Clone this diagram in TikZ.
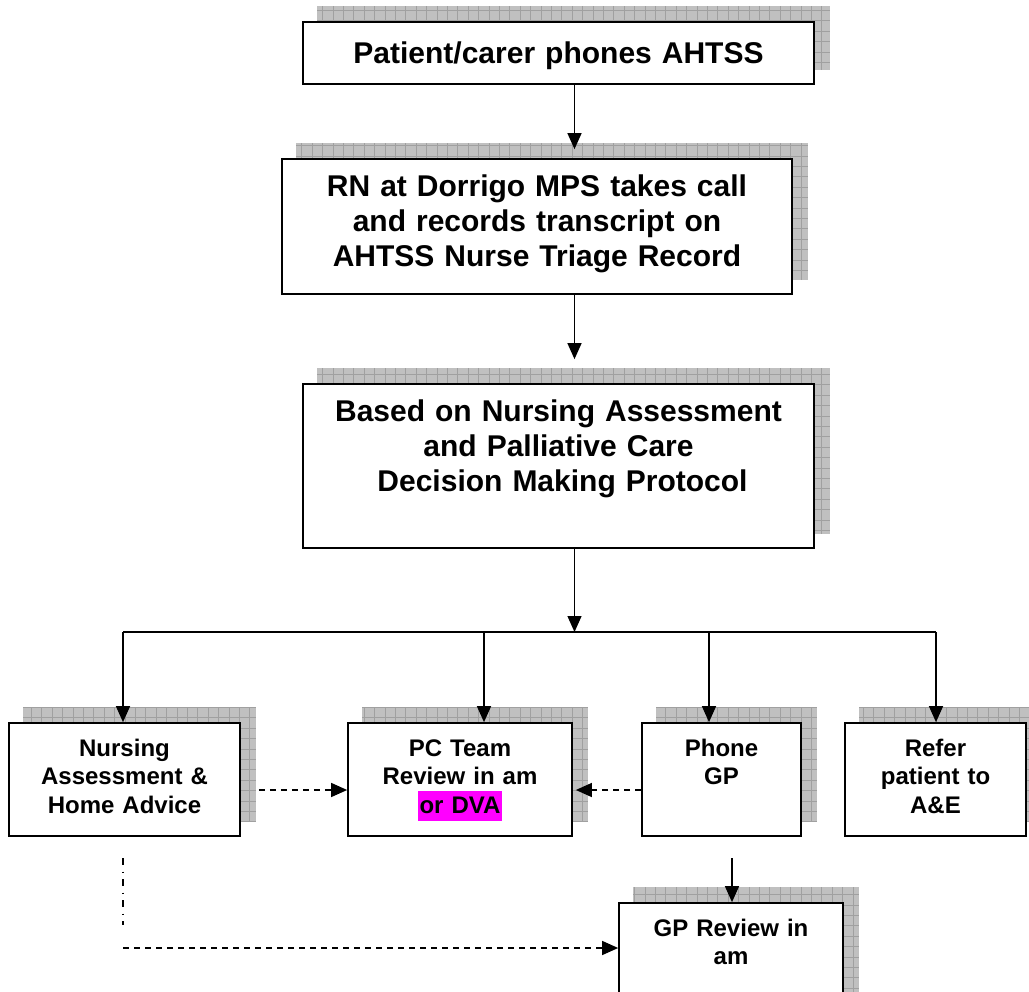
\documentclass[tikz,border=0pt]{standalone}
\usepackage{fontspec}
\setmainfont{Liberation Sans}
\usetikzlibrary{arrows.meta,calc,backgrounds}

\definecolor{shfill}{RGB}{192,192,192}
\definecolor{shgrid}{RGB}{160,160,160}
\definecolor{hlmag}{RGB}{255,0,255}

% grey grid-patterned shadow, offset up and to the right of a box
\newcommand{\boxshadow}[1]{%
  \fill[shfill] ($(#1.south west)+(15,-15)$) rectangle ($(#1.north east)+(15,-15)$);
  \draw[shgrid, line width=0.6pt, step=10.4pt]
    ($(#1.south west)+(15,-15)$) grid ($(#1.north east)+(15,-15)$);}

% magenta text highlight
\newcommand{\hlmark}[1]{{\setlength{\fboxsep}{0pt}%
  \colorbox{hlmag}{\kern2pt\rule[-8pt]{0pt}{30pt}#1\kern2pt}}}

\tikzset{
  flowbox/.style={draw=black, line width=1.7pt, fill=white, inner sep=0pt},
  bigtxt/.style={font=\fontsize{30}{35}\selectfont\bfseries, align=center,
                 inner sep=0pt, anchor=base},
  smalltxt/.style={font=\fontsize{24}{28.5}\selectfont\bfseries, align=center,
                   inner sep=0pt, anchor=base},
  arr/.style={line width=1.3pt, -{Triangle[length=16pt,width=14pt]}},
  darr/.style={arr, dash pattern=on 6pt off 5pt},
  ddline/.style={line width=1.5pt, dash pattern=on 7pt off 6.5pt on 1.5pt off 6pt}
}

\begin{document}
\begin{tikzpicture}[x=1pt,y=-1pt]
\useasboundingbox (0,0) rectangle (1029,992);

% boxes
\node[flowbox, minimum width=511pt, minimum height=62pt]  (b1)  at (558.5,53)    {};
\node[flowbox, minimum width=510pt, minimum height=135pt] (b2)  at (537,226.5)   {};
\node[flowbox, minimum width=511pt, minimum height=164pt] (b3)  at (558.5,466)   {};
\node[flowbox, minimum width=231pt, minimum height=113pt] (na)  at (124.5,779.5) {};
\node[flowbox, minimum width=224pt, minimum height=113pt] (pc)  at (460,779.5)   {};
\node[flowbox, minimum width=159pt, minimum height=113pt] (pg)  at (721.5,779.5) {};
\node[flowbox, minimum width=181pt, minimum height=113pt] (ae)  at (935.5,779.5) {};
\node[flowbox, minimum width=224pt, minimum height=113pt] (gpr) at (731,959.5)   {};

% box texts
\node[bigtxt, text width=500pt] (t1) at ($(b1.north)+(0,42)$) {Patient/carer phones AHTSS};
\node[bigtxt, text width=500pt] (t2) at ($(b2.north)+(0,38)$)
  {RN at Dorrigo MPS takes call\\and records transcript on\\AHTSS Nurse Triage Record};
\node[bigtxt, text width=500pt] (t3) at ($(b3.north)+(0,38)$)
  {Based on Nursing Assessment\\and Palliative Care\\\hspace*{8pt}Decision Making Protocol};
\node[smalltxt, text width=225pt] (tna) at ($(na.north)+(0,34)$) {Nursing\\Assessment \&\\Home Advice};
\node[smalltxt, text width=218pt] (tpc) at ($(pc.north)+(0,34)$) {PC Team\\Review in am\\\hlmark{or DVA}};
\node[smalltxt, text width=153pt] (tpg) at ($(pg.north)+(0,34)$) {Phone\\GP};
\node[smalltxt, text width=175pt] (tae) at ($(ae.north)+(0,34)$) {Refer\\patient to\\A\&E};
\node[smalltxt, text width=218pt] (tgp) at ($(gpr.north)+(0,34)$) {GP Review in\\am};

% shadows behind the boxes
\begin{pgfonlayer}{background}
  \fill[white] (0,0) rectangle (1029,992);
  \foreach \b in {b1,b2,b3,na,pc,pg,ae,gpr} {\boxshadow{\b}}
\end{pgfonlayer}

% main vertical flow
\coordinate (jn) at (574.5,632);
\draw[arr] (b1.south -| jn) -- ($(b2.north -| jn)+(0,-9)$);
\draw[arr] (b2.south -| jn) -- ($(b3.north -| jn)+(0,-24)$);
\draw[arr] (b3.south -| jn) -- (jn);

% distribution bar and drops
\coordinate (bl) at (123,632);
\coordinate (d2) at (484,632);
\coordinate (d3) at (709,632);
\coordinate (br) at (936,632);
\draw[line width=1.5pt] (bl) -- (br);
\draw[arr] (bl) -- (bl |- na.north);
\draw[arr] (d2) -- (d2 |- pc.north);
\draw[arr] (d3) -- (d3 |- pg.north);
\draw[arr] (br) -- (br |- ae.north);

% dashed cross links
\coordinate (dy) at (0,790);
\draw[darr] ($(na.east |- dy)+(18,0)$) -- (pc.west |- dy);
\draw[darr] (pg.west |- dy) -- ($(pc.east |- dy)+(3,0)$);

% phone GP to GP review
\coordinate (pgo) at (732,858);
\draw[arr] (pgo) -- (pgo |- gpr.north);

% home advice to GP review
\coordinate (ddtop) at (123,858);
\coordinate (ddbot) at (123,925);
\coordinate (dhs) at (123,948);
\draw[ddline] (ddtop) -- (ddbot);
\draw[darr] (dhs) -- (dhs -| gpr.west);
\end{tikzpicture}
\end{document}
